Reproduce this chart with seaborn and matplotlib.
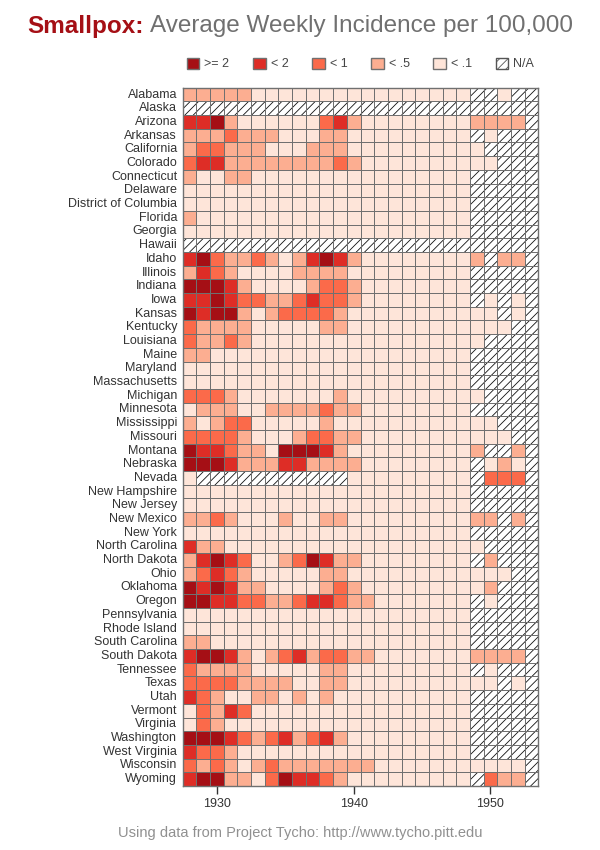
import numpy as np
import pandas as pd
import matplotlib
matplotlib.use('Agg')
import matplotlib.pyplot as plt
from matplotlib.colors import ListedColormap
from matplotlib.patches import Patch
import seaborn as sns

# anos e estados
years = list(range(1928, 1954))
states = ['Alabama', 'Alaska', 'Arizona', 'Arkansas', 'California', 'Colorado',
          'Connecticut', 'Delaware', 'District of Columbia', 'Florida', 'Georgia',
          'Hawaii', 'Idaho', 'Illinois', 'Indiana', 'Iowa', 'Kansas', 'Kentucky',
          'Louisiana', 'Maine', 'Maryland', 'Massachusetts', 'Michigan', 'Minnesota',
          'Mississippi', 'Missouri', 'Montana', 'Nebraska', 'Nevada', 'New Hampshire',
          'New Jersey', 'New Mexico', 'New York', 'North Carolina', 'North Dakota',
          'Ohio', 'Oklahoma', 'Oregon', 'Pennsylvania', 'Rhode Island',
          'South Carolina', 'South Dakota', 'Tennessee', 'Texas', 'Utah', 'Vermont',
          'Virginia', 'Washington', 'West Virginia', 'Wisconsin', 'Wyoming']

# classe por ano: 0 '< .1', 1 '< .5', 2 '< 1', 3 '< 2', 4 '>= 2', '.' sem dado
rows = [
    "11111 00000 00000 00000 0..0. .",  # Alabama
    "..... ..... ..... ..... ..... .",  # Alaska
    "33410 00000 23100 00000 01111 .",  # Arizona
    "11121 11000 11000 00000 0.0.. .",  # Arkansas
    "12211 10001 11000 00000 00... .",  # California
    "23311 11111 12100 00000 000.. .",  # Colorado
    "10011 00000 00000 00000 0.... .",  # Connecticut
    "00000 00000 00000 00000 0.... .",  # Delaware
    "00000 00000 00000 00000 0.... .",  # District of Columbia
    "10000 00000 00000 00000 0.... .",  # Florida
    "00000 00000 00000 00000 0.... .",  # Georgia
    "..... ..... ..... ..... ..... .",  # Hawaii
    "34211 21013 43100 00000 01.11 .",  # Idaho
    "13210 00011 11000 00000 0.... .",  # Illinois
    "44431 00001 22100 00000 0.... .",  # Indiana
    "33432 21123 22100 00000 0.0.0 .",  # Iowa
    "43441 01222 21000 00000 000.0 .",  # Kansas
    "21111 00000 11000 00000 0000. .",  # Kentucky
    "21121 00000 00000 00000 00... .",  # Louisiana
    "11000 00000 00000 00000 0.... .",  # Maine
    "00000 00000 00000 00000 0.... .",  # Maryland
    "00000 00000 00000 00000 0.... .",  # Massachusetts
    "22210 00000 01000 00000 00... .",  # Michigan
    "01110 01111 21100 00000 0.... .",  # Minnesota
    "10122 00000 10000 00000 000.. .",  # Mississippi
    "22221 00012 21100 00000 0000. .",  # Missouri
    "43321 10444 31000 00000 01..1 .",  # Montana
    "44431 11331 11100 00000 0.010 .",  # Nebraska
    "0.... ..... ..000 00000 0.222 .",  # Nevada
    "00000 00000 00000 00000 0.... .",  # New Hampshire
    "00000 00000 00000 00000 0.... .",  # New Jersey
    "11210 00100 11000 00000 011.1 .",  # New Mexico
    "00000 00000 00000 00000 0.... .",  # New York
    "31100 00000 00000 00000 00... .",  # North Carolina
    "13432 00124 31100 00000 0.1.. .",  # North Dakota
    "12321 00000 11000 00000 0000. .",  # Ohio
    "43431 10000 12100 00000 001.. .",  # Oklahoma
    "44332 21123 32110 00000 0.0.. .",  # Oregon
    "00000 00000 00000 00000 0.... .",  # Pennsylvania
    "00000 00000 00000 00000 0.... .",  # Rhode Island
    "11000 00000 00000 00000 0.... .",  # South Carolina
    "34431 01231 22110 00000 01111 .",  # South Dakota
    "21111 00000 11000 00000 0.0.. .",  # Tennessee
    "22221 11100 11000 00000 000.0 .",  # Texas
    "32100 11010 10000 00000 0.... .",  # Utah
    "02132 00000 00000 00000 0.... .",  # Vermont
    "02100 00000 00000 00000 0.... .",  # Virginia
    "44432 12312 31000 00000 0.... .",  # Washington
    "32210 00000 00000 00000 0.... .",  # West Virginia
    "21210 12111 11110 00000 00000 .",  # Wisconsin
    "34411 02433 21000 00000 0.211 .",  # Wyoming
]

bin_labels = ['>= 2', '< 2', '< 1', '< .5', '< .1']
bin_colors = ['#a50f15', '#de2d26', '#fb6a4a', '#fcae91', '#fee5d9']
tick_years = [1930, 1940, 1950]

codes = [[np.nan if c == '.' else int(c) for c in r.replace(' ', '')] for r in rows]
df = pd.DataFrame(codes, index=states, columns=years)

sns.set_style('white')
plt.rcParams['font.family'] = ['Liberation Sans', 'DejaVu Sans']
plt.rcParams['hatch.linewidth'] = 0.6

grid_color = '#707070'
text_color = '#333333'

fig = plt.figure(figsize=(6, 8.5), dpi=100)
ax = fig.add_axes([0.3045, 0.0753, 0.5927, 0.8215])

# fundo hachurado para N/A
ax.patch.set_facecolor('white')
ax.patch.set_hatch('////')
ax.patch.set_edgecolor('#111111')
ax.patch.set_linewidth(0)

cmap = ListedColormap(bin_colors[::-1])
sns.heatmap(df, ax=ax, cmap=cmap, vmin=-0.5, vmax=4.5, cbar=False,
            linewidths=0, yticklabels=True)

# grade nítida (1 px)
for i in range(len(states) + 1):
    ax.axhline(i, color=grid_color, lw=0.72)
for j in range(len(years) + 1):
    ax.axvline(j, color=grid_color, lw=0.72)
for s in ax.spines.values():
    s.set_visible(True)
    s.set_color(grid_color)
    s.set_linewidth(1)

ax.set_xticks([years.index(y) + 0.5 for y in tick_years])
ax.set_xticklabels([str(y) for y in tick_years], rotation=0)
ax.set_xlabel('')
ax.set_ylabel('')
ax.tick_params(axis='y', length=0, pad=4, labelsize=9, labelcolor=text_color)
ax.tick_params(axis='x', length=6, width=1, color=text_color, pad=3,
               labelsize=9, labelcolor=text_color, bottom=True)

# legenda
handles = [Patch(facecolor=c, edgecolor=grid_color, lw=1) for c in bin_colors]
handles.append(Patch(facecolor='white', edgecolor='#555555', lw=1, hatch='////'))
ax.legend(handles, bin_labels + ['N/A'], loc='center', bbox_to_anchor=(0.5, 1.034),
          ncol=6, frameon=False, handlelength=1.0, handleheight=1.0,
          handletextpad=0.4, columnspacing=1.9, fontsize=9, labelcolor='#444444',
          borderaxespad=0)

# título em duas cores
t1 = fig.text(0, 1 - 26 / 850, 'Smallpox:', fontsize=17.5, fontweight='bold',
              color='#a50f15', va='center')
t2 = fig.text(0, 1 - 26 / 850, 'Average Weekly Incidence per 100,000', fontsize=17.5,
              color='#707070', va='center')
fig.canvas.draw()
r = fig.canvas.get_renderer()
w1 = t1.get_window_extent(r).width
w2 = t2.get_window_extent(r).width
gap = 6
x0 = (600 - (w1 + gap + w2)) / 2
t1.set_x(x0 / 600)
t2.set_x((x0 + w1 + gap) / 600)

fig.text(0.5, 1 - 833 / 850, 'Using data from Project Tycho: http://www.tycho.pitt.edu',
         ha='center', va='center', fontsize=10.5, color='#909090')

plt.savefig('out.png', dpi=100)
plt.close()
